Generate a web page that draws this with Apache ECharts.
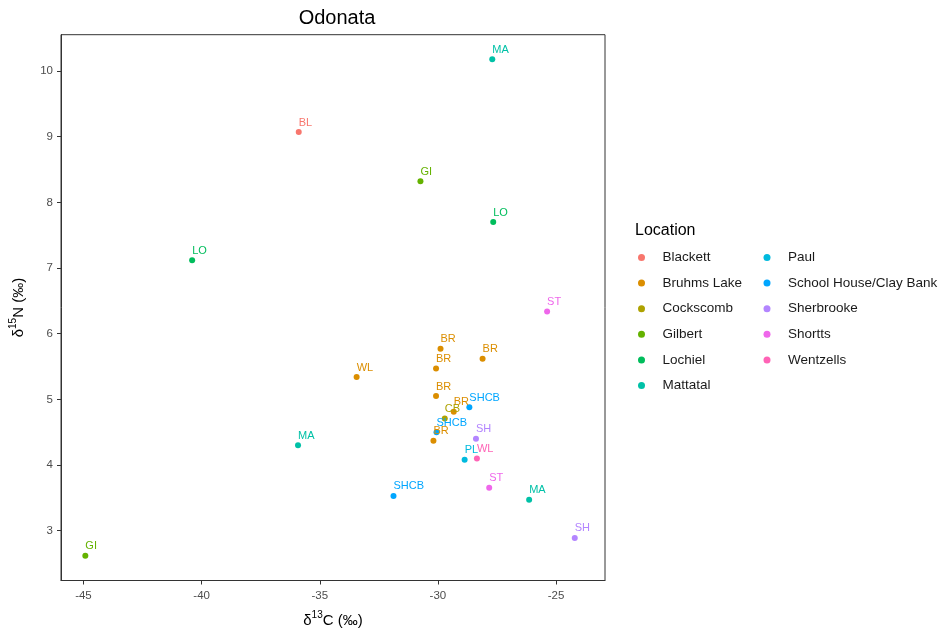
<!DOCTYPE html>
<html>
<head>
<meta charset="utf-8">
<script src="https://cdn.jsdelivr.net/npm/echarts@6/dist/echarts.min.js"></script>
<style>html,body{margin:0;padding:0;background:#fff;}#c{width:943px;height:634px;}</style>
</head>
<body>
<div id="c"></div>
<script>
const locations = ['Blackett','Bruhms Lake','Cockscomb','Gilbert','Lochiel','Mattatal','Paul','School House/Clay Bank','Sherbrooke','Shortts','Wentzells'];
const locationColors = ['#F8766D','#DB8E00','#AEA200','#64B200','#00BD5C','#00C1A7','#00BADE','#00A6FF','#B385FF','#EF67EB','#FF63B6'];

const pointLocation = ['Blackett','Mattatal','Gilbert','Lochiel','Lochiel','Shortts','Bruhms Lake','Bruhms Lake','Bruhms Lake','Bruhms Lake','Bruhms Lake','School House/Clay Bank','Bruhms Lake','Cockscomb','School House/Clay Bank','Bruhms Lake','Sherbrooke','Paul','Wentzells','Mattatal','Shortts','School House/Clay Bank','Mattatal','Sherbrooke','Gilbert'];
const pointLabel = ['BL','MA','GI','LO','LO','ST','BR','BR','BR','WL','BR','SHCB','BR','CB','SHCB','BR','SH','PL','WL','MA','ST','SHCB','MA','SH','GI'];
const d13C = [-35.89,-27.70,-30.74,-27.66,-40.40,-25.38,-29.89,-28.11,-30.08,-33.44,-30.08,-28.67,-29.33,-29.71,-30.06,-30.19,-28.39,-28.87,-28.35,-35.92,-27.83,-31.88,-26.14,-24.21,-44.92];
const d15N = [9.07,10.18,8.32,7.70,7.12,6.34,5.77,5.62,5.47,5.34,5.05,4.88,4.81,4.71,4.50,4.37,4.40,4.08,4.10,4.30,3.655,3.53,3.47,2.89,2.62];

const xTicks = [-45,-40,-35,-30,-25];
const yTicks = [3,4,5,6,7,8,9,10];

const FONT = '"Liberation Sans", Arial, sans-serif';

const series = locations.map((loc, i) => {
  const data = [];
  pointLocation.forEach((p, j) => { if (p === loc) data.push([d13C[j], d15N[j], pointLabel[j]]); });
  return {
    name: loc,
    type: 'scatter',
    symbol: 'circle',
    symbolSize: 6,
    itemStyle: { color: locationColors[i], opacity: 1 },
    data: data,
    label: {
      show: true,
      formatter: p => p.value[2],
      position: [3, -1],
      align: 'left',
      verticalAlign: 'bottom',
      color: locationColors[i],
      fontSize: 11,
      fontFamily: FONT
    },
    emphasis: { disabled: true },
    animation: false
  };
});

const legendCommon = {
  orient: 'vertical',
  icon: 'circle',
  itemWidth: 32,
  itemHeight: 7,
  itemGap: 11.6,
  top: 245.5,
  textStyle: { fontSize: 13.5, lineHeight: 14, color: '#1a1a1a', fontFamily: FONT },
  selectedMode: false
};

const chart = echarts.init(document.getElementById('c'), null, { renderer: 'canvas' });
chart.setOption({
  animation: false,
  backgroundColor: '#ffffff',
  title: [
    { text: 'Odonata', left: 332, top: 3, textAlign: 'center',
      textStyle: { fontSize: 20, fontWeight: 'normal', color: '#000', fontFamily: FONT } },
    { text: 'Location', left: 630, top: 218,
      textStyle: { fontSize: 16, fontWeight: 'normal', color: '#000', fontFamily: FONT } }
  ],
  legend: [
    Object.assign({}, legendCommon, { left: 633, data: locations.slice(0, 6) }),
    Object.assign({}, legendCommon, { left: 758.5, data: locations.slice(6) })
  ],
  grid: { left: 59.5, right: 338, top: 34.7, bottom: 53.5, show: true, borderColor: '#333', borderWidth: 1, containLabel: false },
  xAxis: {
    type: 'value',
    min: -45.95, max: -22.93,
    name: '{d|δ}{s|13}{d|C (‰)}',
    nameLocation: 'middle',
    nameGap: 30,
    nameTextStyle: { rich: {
      d: { fontSize: 15, color: '#000', fontFamily: FONT, verticalAlign: 'bottom' },
      s: { fontSize: 10, color: '#000', fontFamily: FONT, verticalAlign: 'top', padding: [0, 0, 8, 0] }
    } },
    axisLine: { show: true, onZero: false, lineStyle: { color: '#333', width: 1 } },
    axisTick: { show: true, length: 4, customValues: xTicks, lineStyle: { color: '#333' } },
    axisLabel: { customValues: xTicks, color: '#4D4D4D', fontSize: 11.5, margin: 9, fontFamily: FONT },
    splitLine: { show: false }
  },
  yAxis: {
    type: 'value',
    min: 2.242, max: 10.553,
    name: '{d|δ}{s|15}{d|N (‰)}',
    nameLocation: 'middle',
    nameRotate: 90,
    nameGap: 35,
    nameTextStyle: { rich: {
      d: { fontSize: 15, color: '#000', fontFamily: FONT, verticalAlign: 'bottom' },
      s: { fontSize: 10, color: '#000', fontFamily: FONT, verticalAlign: 'top', padding: [0, 0, 8, 0] }
    } },
    axisLine: { show: true, onZero: false, lineStyle: { color: '#333', width: 1 } },
    axisTick: { show: true, length: 4, customValues: yTicks, lineStyle: { color: '#333' } },
    axisLabel: { customValues: yTicks, color: '#4D4D4D', fontSize: 11.5, margin: 8, fontFamily: FONT },
    splitLine: { show: false }
  },
  series: series
});
</script>
</body>
</html>
